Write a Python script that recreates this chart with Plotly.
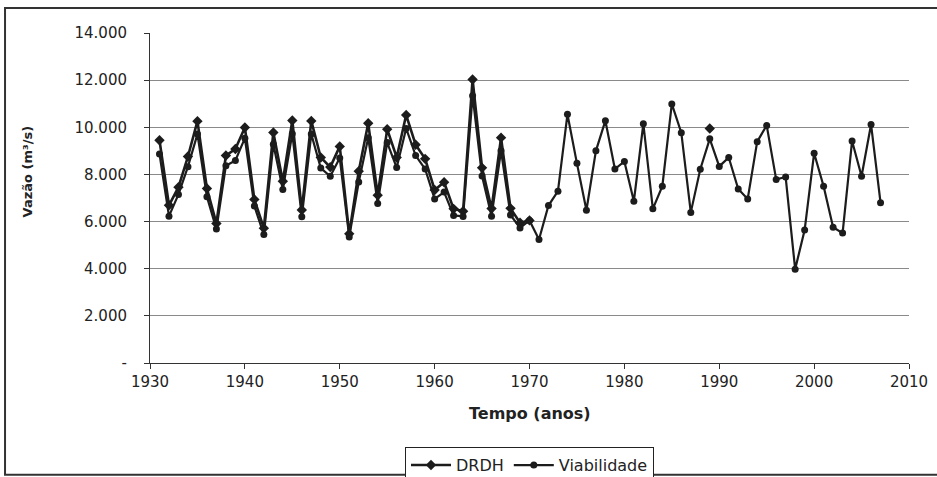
import plotly.graph_objects as go

# Annual flow series (m³/s)
anos_drdh = list(range(1931, 1972)) + [1989]
vazao_drdh = [
    9450, 6690, 7460, 8760, 10260, 7400, 5920, 8800, 9080, 9990,
    6940, 5720, 9780, 7710, 10290, 6490, 10270, 8720, 8310, 9190,
    5480, 8140, 10170, 7120, 9920, 8720, 10520, 9260, 8660, 7340,
    7670, 6540, 6440, 12030, 8280, 6550, 9560, 6560, 5950, 6050,
    None,   # gap before the isolated 1989 value
    9950,
]

anos_viab = list(range(1931, 2008))
vazao_viab = [
    8870, 6230, 7150, 8330, 9710, 7050, 5680, 8370, 8590, 9540,
    6660, 5450, 9280, 7360, 9730, 6200, 9710, 8270, 7920, 8700,
    5350, 7680, 9560, 6770, 9350, 8290, 9950, 8800, 8230, 6960,
    7250, 6260, 6220, 11340, 7930, 6230, 9000, 6280, 5730, 6050,
    5240, 6680, 7290, 10550, 8470, 6480, 9000, 10280, 8230, 8550,
    6860, 10150, 6540, 7500, 10990, 9770, 6390, 8220, 9510, 8340,
    8720, 7380, 6960, 9390, 10080, 7790, 7890, 3980, 5640, 8900,
    7500, 5760, 5510, 9420, 7920, 10120, 6800,
]

y_ticks = [0, 2000, 4000, 6000, 8000, 10000, 12000, 14000]
y_tick_labels = ["-", "2.000", "4.000", "6.000", "8.000", "10.000", "12.000", "14.000"]
x_ticks = list(range(1930, 2011, 10))

INK = "#1c1c1c"
TEXT = "#222222"
FONT = "DejaVu Sans"

fig = go.Figure()
fig.add_trace(go.Scatter(
    x=anos_drdh, y=vazao_drdh, name="DRDH", mode="lines+markers",
    line=dict(color=INK, width=2.6),
    marker=dict(symbol="diamond", size=8, color=INK),
    connectgaps=False,
))
fig.add_trace(go.Scatter(
    x=anos_viab, y=vazao_viab, name="Viabilidade", mode="lines+markers",
    line=dict(color=INK, width=2.2),
    marker=dict(symbol="circle", size=7, color=INK),
))

fig.update_layout(
    width=937, height=477,
    margin=dict(l=150, r=28, t=33, b=114, autoexpand=False),
    paper_bgcolor="white", plot_bgcolor="white",
    font=dict(family=FONT, color=TEXT, size=15),
    showlegend=True,
    legend=dict(
        orientation="h", x=0.5, xanchor="center", y=-0.255, yanchor="top",
        bordercolor=TEXT, borderwidth=1, bgcolor="white",
        font=dict(family=FONT, size=16, color=TEXT),
        itemwidth=40, tracegroupgap=0,
    ),
    xaxis=dict(
        range=[1930, 2010], tickmode="array", tickvals=x_ticks,
        showgrid=False, zeroline=False,
        showline=True, linecolor="#333333", linewidth=1,
        ticks="outside", ticklen=5, tickcolor="#333333",
        tickfont=dict(family=FONT, size=15, color=TEXT),
    ),
    yaxis=dict(
        range=[0, 14000], tickmode="array", tickvals=y_ticks, ticktext=y_tick_labels,
        showgrid=True, gridcolor="#8a8a8a", gridwidth=1, zeroline=False,
        showline=True, linecolor="#333333", linewidth=1,
        ticks="outside", ticklen=5, tickcolor="#333333",
        ticklabelstandoff=14,
        tickfont=dict(family=FONT, size=15, color=TEXT),
    ),
    annotations=[
        dict(text="<b>Tempo (anos)</b>", xref="paper", yref="paper",
             x=0.5, y=-0.152, xanchor="center", yanchor="middle", showarrow=False,
             font=dict(family=FONT, size=16, color=TEXT)),
        dict(text="<b>Vazão (m³/s)</b>", xref="paper", yref="paper",
             x=-0.161, y=0.58, xanchor="center", yanchor="middle", showarrow=False,
             textangle=-90, font=dict(family=FONT, size=13, color=TEXT)),
    ],
    shapes=[
        dict(type="rect", xref="paper", yref="paper",
             x0=-0.191, x1=1.06, y0=-0.339, y1=1.076,
             line=dict(color="#333333", width=2), layer="below"),
    ],
)

fig.write_html("out.html")
